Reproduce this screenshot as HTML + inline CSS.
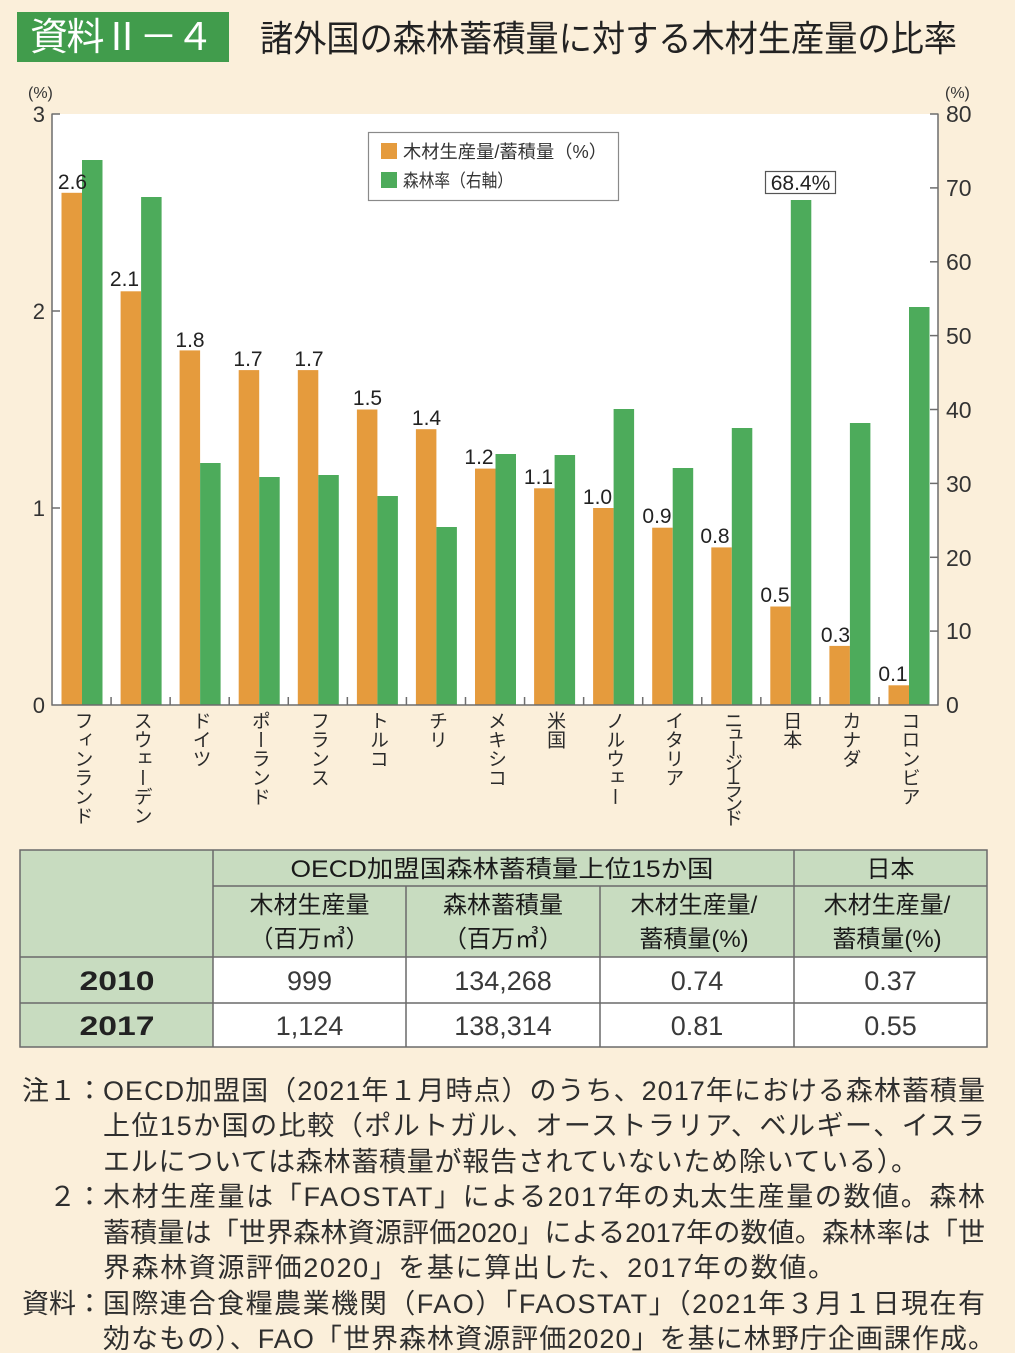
<!DOCTYPE html>
<html><head><meta charset="utf-8"><style>
html,body{margin:0;padding:0;background:#fbefda;}
#wrap{position:relative;width:1015px;height:1353px;overflow:hidden;background:#fbefda;}
svg{position:absolute;left:0;top:0;}
.vl{position:absolute;top:711px;width:20px;font-family:"Liberation Sans","Noto Sans CJK JP",sans-serif;font-size:19px;line-height:20px;writing-mode:vertical-rl;text-orientation:mixed;color:#2a2a2a;white-space:nowrap;}
</style></head><body><div id="wrap">
<svg width="1015" height="1353" viewBox="0 0 1015 1353" xmlns="http://www.w3.org/2000/svg" font-family="'Liberation Sans','Noto Sans CJK JP',sans-serif">
<rect x="0" y="0" width="1015" height="1353" fill="#fbefda"/>
<!-- title -->
<rect x="17" y="12" width="212" height="50" fill="#419c4c"/>
<text x="30" y="50" font-size="38" fill="#ffffff" textLength="184" lengthAdjust="spacing">資料Ⅱ－４</text>
<text x="260" y="51" font-size="36" fill="#222" textLength="697" lengthAdjust="spacingAndGlyphs">諸外国の森林蓄積量に対する木材生産量の比率</text>

<!-- plot area -->
<rect x="52" y="114" width="886" height="591" fill="#ffffff"/>

<!-- legend -->
<rect x="368.5" y="132.5" width="250" height="68" fill="#fff" stroke="#8a8a8a" stroke-width="1.2"/>
<rect x="381" y="143" width="16" height="16" fill="#e59b3d"/>
<rect x="381" y="172" width="16" height="16" fill="#4dab5b"/>
<text x="403" y="158" font-size="18" fill="#333" textLength="204" lengthAdjust="spacingAndGlyphs">木材生産量/蓄積量（%）</text>
<text x="403" y="187" font-size="18" fill="#333" textLength="110" lengthAdjust="spacingAndGlyphs">森林率（右軸）</text>

<!-- bars -->
<g fill="#e59b3d">
<rect x="61.5" y="192.8" width="20.5" height="512.2"/>
<rect x="120.6" y="291.3" width="20.5" height="413.7"/>
<rect x="179.6" y="350.4" width="20.5" height="354.6"/>
<rect x="238.7" y="370.1" width="20.5" height="334.9"/>
<rect x="297.8" y="370.1" width="20.5" height="334.9"/>
<rect x="356.9" y="409.5" width="20.5" height="295.5"/>
<rect x="415.9" y="429.2" width="20.5" height="275.8"/>
<rect x="475.0" y="468.6" width="20.5" height="236.4"/>
<rect x="534.1" y="488.3" width="20.5" height="216.7"/>
<rect x="593.1" y="508.0" width="20.5" height="197.0"/>
<rect x="652.2" y="527.7" width="20.5" height="177.3"/>
<rect x="711.3" y="547.4" width="20.5" height="157.6"/>
<rect x="770.3" y="606.5" width="20.5" height="98.5"/>
<rect x="829.4" y="645.9" width="20.5" height="59.1"/>
<rect x="888.5" y="685.3" width="20.5" height="19.7"/>
</g>
<g fill="#4dab5b">
<rect x="82" y="160" width="20.5" height="545"/>
<rect x="141.1" y="197" width="20.5" height="508"/>
<rect x="200.1" y="463" width="20.5" height="242"/>
<rect x="259.2" y="477" width="20.5" height="228"/>
<rect x="318.3" y="475" width="20.5" height="230"/>
<rect x="377.4" y="496" width="20.5" height="209"/>
<rect x="436.4" y="527" width="20.5" height="178"/>
<rect x="495.5" y="454" width="20.5" height="251"/>
<rect x="554.6" y="455" width="20.5" height="250"/>
<rect x="613.6" y="409" width="20.5" height="296"/>
<rect x="672.7" y="468" width="20.5" height="237"/>
<rect x="731.8" y="428" width="20.5" height="277"/>
<rect x="790.8" y="200" width="20.5" height="505"/>
<rect x="849.9" y="423" width="20.5" height="282"/>
<rect x="909.0" y="307" width="20.5" height="398"/>
</g>

<!-- data labels -->
<g font-size="21" fill="#222" text-anchor="middle">
<text x="72.5" y="189">2.6</text>
<text x="124.5" y="286">2.1</text>
<text x="190" y="347">1.8</text>
<text x="248" y="366">1.7</text>
<text x="309" y="366">1.7</text>
<text x="367.5" y="405">1.5</text>
<text x="426.5" y="425">1.4</text>
<text x="479" y="464">1.2</text>
<text x="538.5" y="484">1.1</text>
<text x="597.5" y="504">1.0</text>
<text x="657" y="523">0.9</text>
<text x="715" y="543">0.8</text>
<text x="775" y="602">0.5</text>
<text x="835.5" y="642">0.3</text>
<text x="893" y="681">0.1</text>
</g>
<rect x="765.5" y="171.5" width="70" height="22" fill="#fff" stroke="#555" stroke-width="1.2"/>
<text x="800.5" y="190" font-size="21" fill="#222" text-anchor="middle">68.4%</text>

<!-- axes -->
<g stroke="#6d6d6d" stroke-width="1.5" fill="none">
<line x1="52" y1="113.5" x2="52" y2="705.5"/>
<line x1="938" y1="113.5" x2="938" y2="705.5"/>
<line x1="51.5" y1="705" x2="938.5" y2="705"/>
<line x1="52" y1="114" x2="60" y2="114"/>
<line x1="52" y1="311" x2="60" y2="311"/>
<line x1="52" y1="508" x2="60" y2="508"/>
<line x1="930" y1="114" x2="938" y2="114"/>
<line x1="930" y1="187.9" x2="938" y2="187.9"/>
<line x1="930" y1="261.8" x2="938" y2="261.8"/>
<line x1="930" y1="335.6" x2="938" y2="335.6"/>
<line x1="930" y1="409.5" x2="938" y2="409.5"/>
<line x1="930" y1="483.4" x2="938" y2="483.4"/>
<line x1="930" y1="557.3" x2="938" y2="557.3"/>
<line x1="930" y1="631.1" x2="938" y2="631.1"/>
<line x1="111.07" y1="697" x2="111.07" y2="705"/>
<line x1="170.14" y1="697" x2="170.14" y2="705"/>
<line x1="229.21" y1="697" x2="229.21" y2="705"/>
<line x1="288.28" y1="697" x2="288.28" y2="705"/>
<line x1="347.35" y1="697" x2="347.35" y2="705"/>
<line x1="406.42" y1="697" x2="406.42" y2="705"/>
<line x1="465.49" y1="697" x2="465.49" y2="705"/>
<line x1="524.56" y1="697" x2="524.56" y2="705"/>
<line x1="583.63" y1="697" x2="583.63" y2="705"/>
<line x1="642.7" y1="697" x2="642.7" y2="705"/>
<line x1="701.77" y1="697" x2="701.77" y2="705"/>
<line x1="760.84" y1="697" x2="760.84" y2="705"/>
<line x1="819.91" y1="697" x2="819.91" y2="705"/>
<line x1="878.98" y1="697" x2="878.98" y2="705"/>
</g>
<g font-size="22" fill="#333" text-anchor="end">
<text x="45" y="122">3</text>
<text x="45" y="319">2</text>
<text x="45" y="516">1</text>
<text x="45" y="713">0</text>
</g>
<text x="28" y="98" font-size="16" fill="#333">(%)</text>
<text x="945" y="98" font-size="16" fill="#333">(%)</text>
<g font-size="23" fill="#333">
<text x="946" y="122">80</text>
<text x="946" y="196">70</text>
<text x="946" y="270">60</text>
<text x="946" y="344">50</text>
<text x="946" y="418">40</text>
<text x="946" y="492">30</text>
<text x="946" y="566">20</text>
<text x="946" y="639">10</text>
<text x="946" y="713">0</text>
</g>

<!-- table -->
<rect x="20" y="850" width="967" height="107" fill="#c8dcc0"/>
<rect x="20" y="957" width="193" height="90" fill="#c8dcc0"/>
<rect x="213" y="957" width="774" height="90" fill="#ffffff"/>
<g stroke="#6a6a6a" stroke-width="1.5" fill="none">
<rect x="20" y="850" width="967" height="197"/>
<line x1="213" y1="886" x2="987" y2="886"/>
<line x1="20" y1="957" x2="987" y2="957"/>
<line x1="20" y1="1003" x2="987" y2="1003"/>
<line x1="213" y1="850" x2="213" y2="1047"/>
<line x1="406" y1="886" x2="406" y2="1047"/>
<line x1="600" y1="886" x2="600" y2="1047"/>
<line x1="794" y1="850" x2="794" y2="1047"/>
</g>
<g font-size="24" fill="#1a1a1a" text-anchor="middle">
<text x="502" y="877" textLength="423" lengthAdjust="spacingAndGlyphs">OECD加盟国森林蓄積量上位15か国</text>
<text x="890.5" y="877">日本</text>
<text x="309.5" y="913">木材生産量</text>
<text x="309.5" y="947">（百万㎥）</text>
<text x="503" y="913">森林蓄積量</text>
<text x="503" y="947">（百万㎥）</text>
<text x="694" y="913">木材生産量/</text>
<text x="694" y="947">蓄積量(%)</text>
<text x="887" y="913">木材生産量/</text>
<text x="887" y="947">蓄積量(%)</text>
</g>
<g font-size="27" text-anchor="middle">
<text x="117" y="990" font-weight="bold" fill="#222" textLength="75" lengthAdjust="spacingAndGlyphs">2010</text>
<text x="117" y="1035" font-weight="bold" fill="#222" textLength="75" lengthAdjust="spacingAndGlyphs">2017</text>
<g fill="#3a3a3a">
<text x="309.5" y="990">999</text>
<text x="503" y="990">134,268</text>
<text x="697" y="990">0.74</text>
<text x="890.5" y="990">0.37</text>
<text x="309.5" y="1035">1,124</text>
<text x="503" y="1035">138,314</text>
<text x="697" y="1035">0.81</text>
<text x="890.5" y="1035">0.55</text>
</g>
</g>

<!-- notes -->
<g font-size="27" fill="#2e2e2e">
<text x="22" y="1100" textLength="81" lengthAdjust="spacing">注１：</text>
<text x="103" y="1100" textLength="882" lengthAdjust="spacing">OECD加盟国（2021年１月時点）のうち、2017年における森林蓄積量</text>
<text x="103" y="1135" textLength="882" lengthAdjust="spacing">上位15か国の比較（ポルトガル、オーストラリア、ベルギー、イスラ</text>
<text x="103" y="1171" textLength="815" lengthAdjust="spacing">エルについては森林蓄積量が報告されていないため除いている）。</text>
<text x="49" y="1206" textLength="54" lengthAdjust="spacing">２：</text>
<text x="103" y="1206" textLength="882" lengthAdjust="spacing">木材生産量は「FAOSTAT」による2017年の丸太生産量の数値。森林</text>
<text x="103" y="1242" textLength="882" lengthAdjust="spacing">蓄積量は「世界森林資源評価2020」による2017年の数値。森林率は「世</text>
<text x="103" y="1277" textLength="732" lengthAdjust="spacing">界森林資源評価2020」を基に算出した、2017年の数値。</text>
<text x="22" y="1313" textLength="81" lengthAdjust="spacing">資料：</text>
<text x="103" y="1313" textLength="882" lengthAdjust="spacing">国際連合食糧農業機関（FAO）「FAOSTAT」（2021年３月１日現在有</text>
<text x="103" y="1348" textLength="892" lengthAdjust="spacing">効なもの）、FAO「世界森林資源評価2020」を基に林野庁企画課作成。</text>
</g>
</svg>

<div class="vl" style="left:71.5px">フィンランド</div>
<div class="vl" style="left:130.6px">スウェーデン</div>
<div class="vl" style="left:189.6px">ドイツ</div>
<div class="vl" style="left:248.7px">ポーランド</div>
<div class="vl" style="left:307.8px">フランス</div>
<div class="vl" style="left:366.9px">トルコ</div>
<div class="vl" style="left:425.9px">チリ</div>
<div class="vl" style="left:485.0px">メキシコ</div>
<div class="vl" style="left:544.1px">米国</div>
<div class="vl" style="left:603.1px">ノルウェー</div>
<div class="vl" style="left:662.2px">イタリア</div>
<div class="vl" style="left:721.3px;letter-spacing:-5.2px">ニュージーランド</div>
<div class="vl" style="left:780.3px">日本</div>
<div class="vl" style="left:839.4px">カナダ</div>
<div class="vl" style="left:898.5px">コロンビア</div>
</div></body></html>
